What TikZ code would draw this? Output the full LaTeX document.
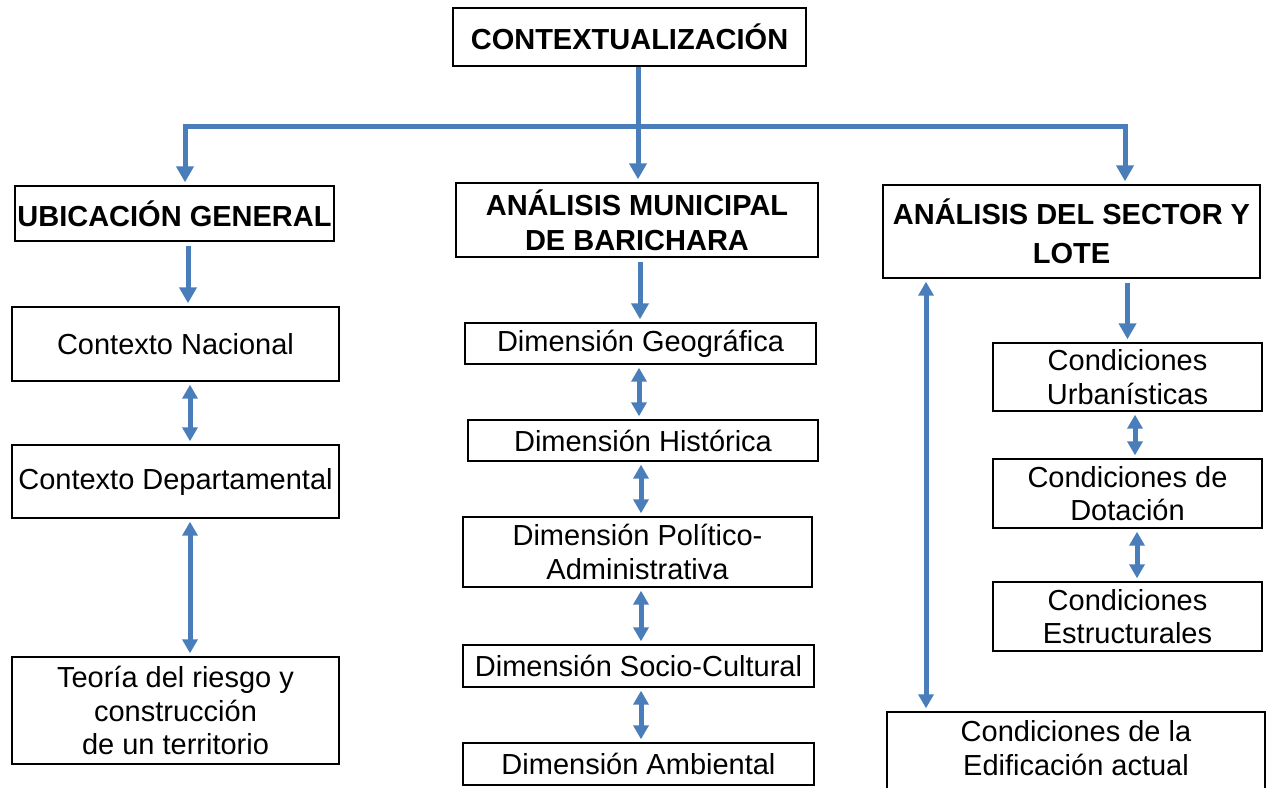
\documentclass[tikz,border=0pt]{standalone}
\usepackage{fontspec}
\setmainfont{Liberation Sans}
\usetikzlibrary{arrows.meta,positioning}
\definecolor{flecha}{RGB}{74,126,187}
\begin{document}
\begin{tikzpicture}[x=1pt,y=-1pt,
  caja/.style={draw,line width=1.4pt,align=center,inner sep=0pt,font=\fontsize{29}{33.5}\selectfont},
  titulo/.style={caja,font=\fontsize{29}{35}\selectfont\bfseries},
  flec/.style={draw=flecha,line width=5pt,-{Triangle[width=17pt,length=16pt]},shorten >=3pt},
  doble/.style={draw=flecha,line width=5pt,{Triangle[width=15pt,length=14pt]}-{Triangle[width=15pt,length=14pt]},shorten >=3pt,shorten <=3pt}]
\useasboundingbox (0,0) rectangle (1266,787);
\node[titulo,minimum width=353pt,minimum height=58pt] (ctx) at (629.5,37) {CONTEXTUALIZACIÓN};
\node[titulo,minimum width=319pt,minimum height=55pt] (ubic) at (174.5,213.5) {UBICACIÓN GENERAL};
\node[titulo,minimum width=362pt,minimum height=74pt] (muni) at (637,220) {ANÁLISIS MUNICIPAL\\DE BARICHARA};
\node[titulo,font=\fontsize{29}{39}\selectfont\bfseries,minimum width=377pt,minimum height=93pt] (sector) at (1071.5,231.5) {ANÁLISIS DEL SECTOR Y\\LOTE};
\node[caja,minimum width=327pt,minimum height=74pt] (nac) at (175.5,344) {Contexto Nacional};
\node[caja,minimum width=327pt,minimum height=73pt] (dep) at (175.5,481.5) {Contexto Departamental};
\node[caja,minimum width=327pt,minimum height=107pt] (teo) at (175.5,710.5) {Teoría del riesgo y\\construcción\\de un territorio};
\node[caja,minimum width=351pt,minimum height=41pt] (geo) at (640.5,343.5) {Dimensión Geográfica};
\node[caja,minimum width=350pt,minimum height=41pt] (his) at (643,440.5) {Dimensión Histórica};
\node[caja,minimum width=349pt,minimum height=70pt] (pol) at (637.5,552) {Dimensión Político-\\Administrativa};
\node[caja,minimum width=351pt,minimum height=42pt] (soc) at (638.5,666) {Dimensión Socio-Cultural};
\node[caja,minimum width=351pt,minimum height=42pt] (amb) at (638.5,764) {Dimensión Ambiental};
\node[caja,minimum width=269pt,minimum height=68pt] (urb) at (1127.5,377) {Condiciones\\Urbanísticas};
\node[caja,minimum width=269pt,minimum height=69pt] (dot) at (1127.5,493.5) {Condiciones de\\Dotación};
\node[caja,minimum width=269pt,minimum height=69pt] (est) at (1127.5,616.5) {Condiciones\\Estructurales};
\node[caja,text depth=12pt,minimum width=378pt,minimum height=84pt] (edi) at (1076,754) {Condiciones de la\\Edificación actual};
\coordinate (jm) at (638,126);
\coordinate (jl) at (185,126);
\coordinate (jr) at (1125,126);
\draw[flec] (ctx.south -| jm) -- (jm |- muni.north);
\draw[flec] (jm) -- (jl) -- (jl |- ubic.north);
\draw[flec] (jm) -- (jr) -- (jr |- sector.north);
\draw[flec,shorten <=4pt] ([xshift=13.5]ubic.south) -- ([xshift=13.5]ubic.south |- nac.north);
\draw[doble] ([xshift=14.5]nac.south) -- ([xshift=14.5]dep.north);
\draw[doble] ([xshift=14.5]dep.south) -- ([xshift=14.5]teo.north);
\draw[flec,shorten <=4pt] ([xshift=3]muni.south) -- ([xshift=3]muni.south |- geo.north);
\draw[doble] ([xshift=-1.5]geo.south) -- ([xshift=-1.5]geo.south |- his.north);
\draw[doble] ([xshift=-2]his.south) -- ([xshift=-2]his.south |- pol.north);
\draw[doble] ([xshift=3.5]pol.south) -- ([xshift=3.5]pol.south |- soc.north);
\draw[doble] ([xshift=2.5]soc.south) -- ([xshift=2.5]soc.south |- amb.north);
\draw[flec,shorten <=4pt] (urb.north |- sector.south) -- (urb.north);
\draw[doble] ([xshift=7.5]urb.south) -- ([xshift=7.5]dot.north);
\draw[doble] ([xshift=9.5]dot.south) -- ([xshift=9.5]est.north);
\draw[doble] (926,0 |- sector.south) -- (926,0 |- edi.north);
\end{tikzpicture}
\end{document}
